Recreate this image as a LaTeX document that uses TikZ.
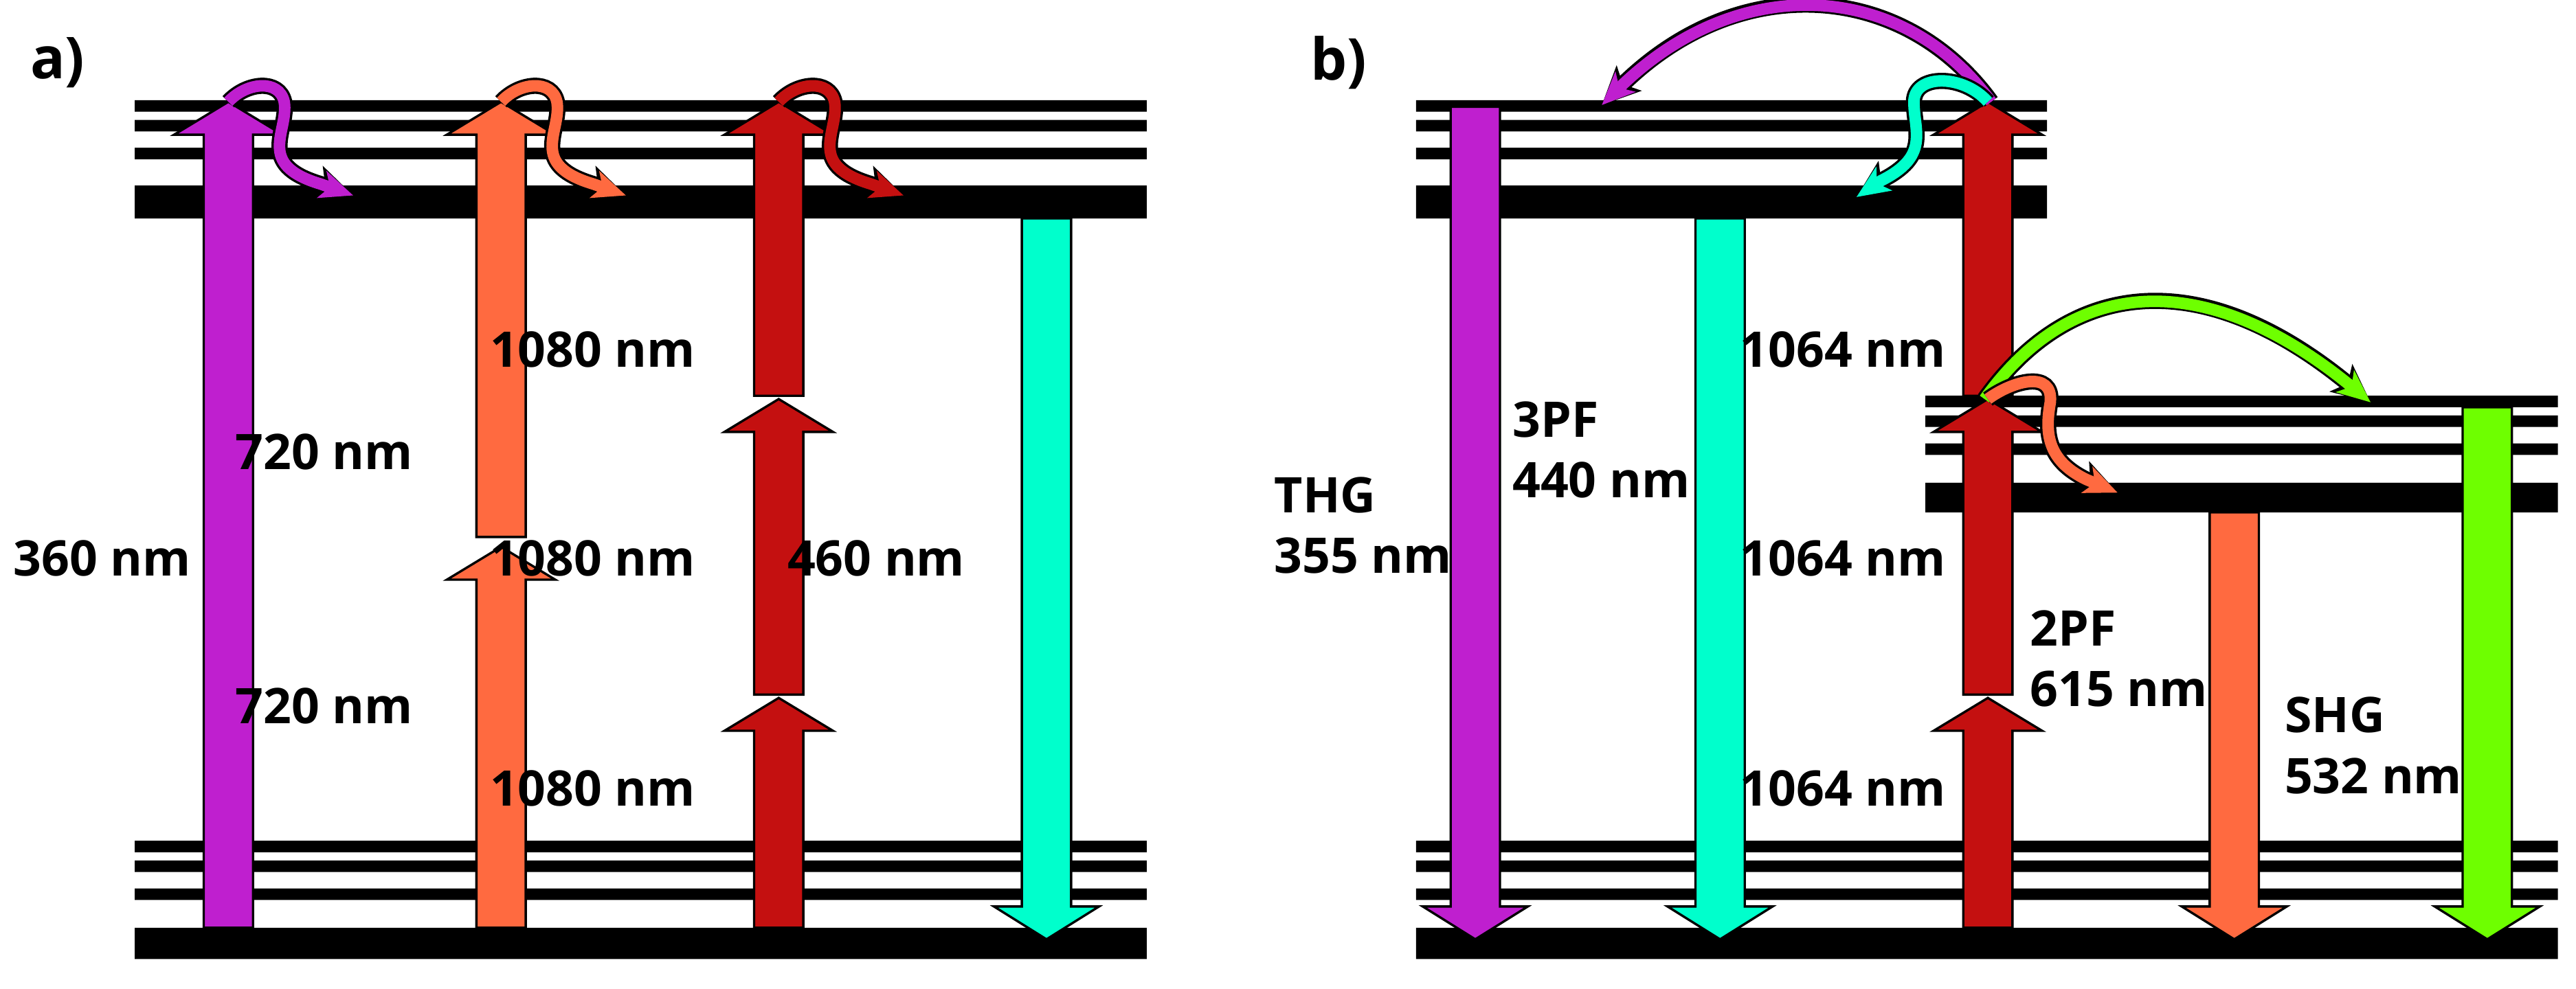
\documentclass[tikz,border=0pt]{standalone}
\usepackage{fontspec}
\setmainfont{Open Sans}[BoldFont={Open Sans Bold}]
\usetikzlibrary{arrows.meta}
\definecolor{cpur}{HTML}{BF1FCF}
\definecolor{cora}{HTML}{FF6A40}
\definecolor{cred}{HTML}{C41010}
\definecolor{ccya}{HTML}{00FFCC}
\definecolor{cgre}{HTML}{6EFF00}
\newcommand\bigup[4]{\filldraw[fill=#4,draw=black,line width=0.4pt] ({#1-15},#2) -- ({#1-15},{#3+20}) -- ({#1-33},{#3+20}) -- (#1,#3) -- ({#1+33},{#3+20}) -- ({#1+15},{#3+20}) -- ({#1+15},#2) -- cycle;}
\newcommand\bigdn[4]{\filldraw[fill=#4,draw=black,line width=0.4pt] ({#1-15},#2) -- ({#1-15},{#3-20}) -- ({#1-32},{#3-20}) -- (#1,#3) -- ({#1+32},{#3-20}) -- ({#1+15},{#3-20}) -- ({#1+15},#2) -- cycle;}
\newcommand\lev[3]{\fill[black] (#1,61) rectangle (#2,68) (#1,73) rectangle (#2,80) (#1,90) rectangle (#2,97) (#1,113) rectangle (#2,133);}
\newcommand\levlow[2]{\fill[black] (#1,512) rectangle (#2,519) (#1,524) rectangle (#2,531) (#1,541) rectangle (#2,548) (#1,565) rectangle (#2,584);}
\tikzset{
 lbl/.style={font=\fontsize{8.5}{10.5}\selectfont\bfseries, align=left, inner sep=0pt},
 wavy/.style={line width=2pt, draw=#1, -{Stealth[length=0.2cm,width=0.17cm,inset=0.05cm]},
   preaction={draw=black, line width=2.8pt, -{Stealth[length=0.23cm,width=0.21cm,inset=0.05cm]}}}
}
\begin{document}
\begin{tikzpicture}[x=0.01cm,y=-0.01cm]
\useasboundingbox (0,0) rectangle (1568,602);
% panel a
\node[lbl, font=\fontsize{10}{12}\selectfont\bfseries] (la) at (35,38) {a)};
\lev{82}{698}{}
\levlow{82}{698}
\bigup{139}{565}{62}{cpur}
\bigup{305}{565}{333}{cora}
\bigup{305}{327}{62}{cora}
\bigup{474}{565}{425}{cred}
\bigup{474}{423}{243}{cred}
\bigup{474}{241}{62}{cred}
\bigdn{637}{133}{572}{ccya}
\draw[wavy=cpur] (139,62) .. controls (150,50) and (170,48) .. (173,62) .. controls (176,80) and (155,100) .. (195,112) -- (215,119);
\draw[wavy=cora] (305,62) .. controls (316,50) and (336,48) .. (339,62) .. controls (342,80) and (321,100) .. (361,112) -- (381,119);
\draw[wavy=cred] (474,62) .. controls (485,50) and (505,48) .. (508,62) .. controls (511,80) and (490,100) .. (530,112) -- (550,119);
\node[lbl, anchor=east] (t360) at (117,340) {360 nm};
\node[lbl, anchor=east] (t720a) at (252,275) {720 nm};
\node[lbl, anchor=east] (t720b) at (252,430) {720 nm};
\node[lbl, anchor=east] (t1080a) at (424,213) {1080 nm};
\node[lbl, anchor=east] (t1080b) at (424,340) {1080 nm};
\node[lbl, anchor=east] (t1080c) at (424,480) {1080 nm};
\node[lbl, anchor=east] (t460) at (588,340) {460 nm};
% panel b
\node[lbl, font=\fontsize{10}{12}\selectfont\bfseries] (lb) at (815,38) {b)};
\lev{862}{1246}{}
\levlow{862}{1557}
\fill[black] (1172,241) rectangle (1557,248) (1172,253) rectangle (1557,260) (1172,270) rectangle (1557,277) (1172,294) rectangle (1557,312);
\bigdn{898}{65}{572}{cpur}
\bigdn{1047}{133}{572}{ccya}
\bigdn{1360}{312}{572}{cora}
\bigdn{1514}{248}{572}{cgre}
\bigup{1210}{565}{425}{cred}
\bigup{1210}{423}{243}{cred}
\bigup{1210}{241}{62}{cred}
\draw[wavy=cpur] (1212,62) .. controls (1160,-10) and (1060,-20) .. (975,64);
\draw[wavy=ccya] (1210,62) .. controls (1195,45) and (1165,45) .. (1165,62) .. controls (1165,80) and (1175,95) .. (1145,110) -- (1130,120);
\draw[wavy=cgre] (1208,243) .. controls (1260,170) and (1340,160) .. (1443,245);
\draw[wavy=cora] (1210,243) .. controls (1225,232) and (1250,225) .. (1248,245) .. controls (1245,262) and (1245,280) .. (1270,292) -- (1289,300);
\node[lbl, anchor=west] (thg) at (775,320) {THG\\355 nm};
\node[lbl, anchor=west] (tpf3) at (920,274) {3PF\\440 nm};
\node[lbl, anchor=east] (t1064a) at (1185,213) {1064 nm};
\node[lbl, anchor=east] (t1064b) at (1185,340) {1064 nm};
\node[lbl, anchor=east] (t1064c) at (1185,480) {1064 nm};
\node[lbl, anchor=west] (tpf2) at (1235,401) {2PF\\615 nm};
\node[lbl, anchor=west] (shg) at (1390,454) {SHG\\532 nm};
\end{tikzpicture}
\end{document}
